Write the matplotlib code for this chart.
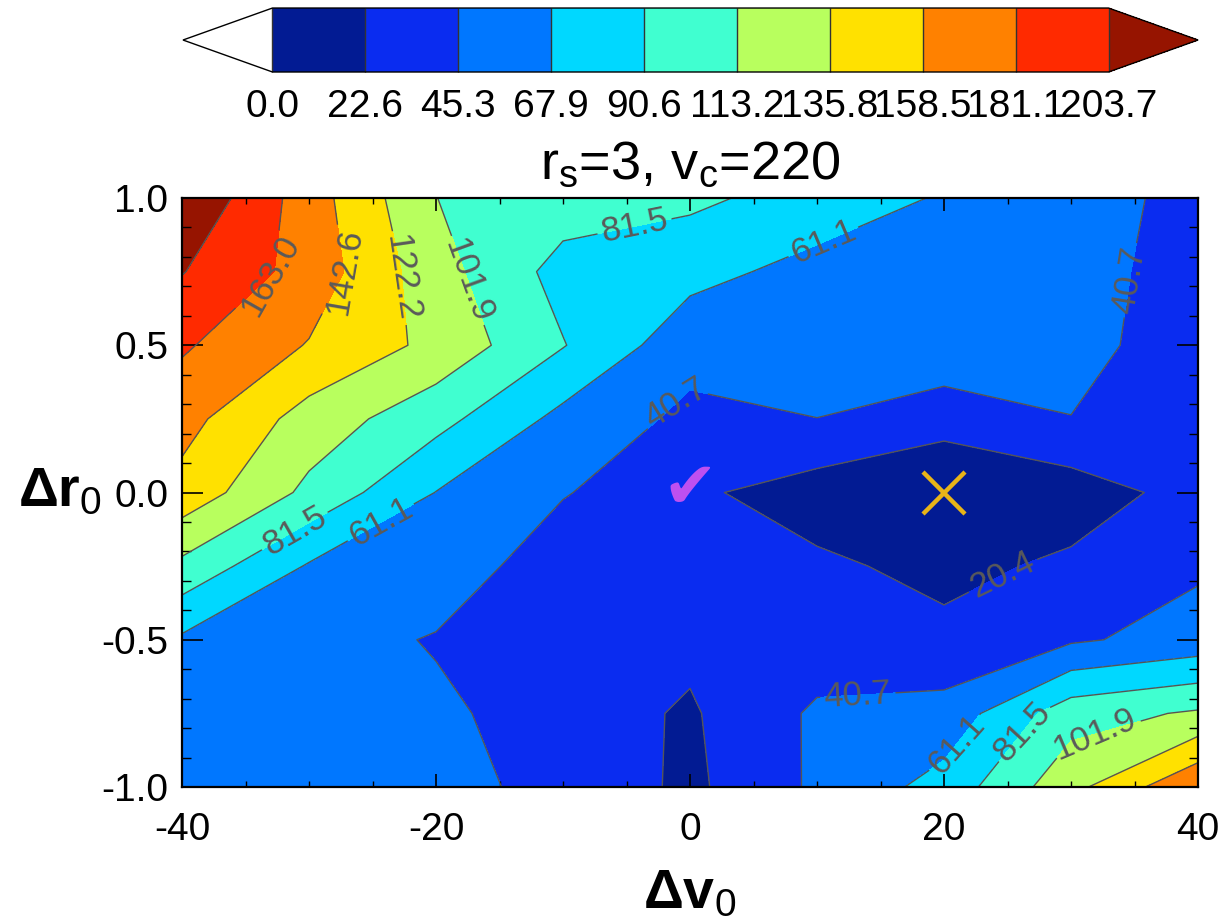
import matplotlib

matplotlib.use("Agg")
import matplotlib.pyplot as plt
import numpy as np
from matplotlib.cm import ScalarMappable
from matplotlib.colors import BoundaryNorm, ListedColormap

plt.rcParams["font.family"] = ["Liberation Sans", "DejaVu Sans"]
plt.rcParams["mathtext.fontset"] = "custom"
plt.rcParams["mathtext.rm"] = "Liberation Sans"
plt.rcParams["mathtext.it"] = "Liberation Sans:italic"
plt.rcParams["mathtext.bf"] = "Liberation Sans:bold"

# offsets of the initial velocity and radius tried in the grid
dv0 = [-40, -30, -20, -10, 0, 10, 20, 30, 40]
dr0 = [-1.0, -0.75, -0.5, -0.25, 0.0, 0.25, 0.5, 0.75, 1.0]

# misfit on the grid, one row per dr0 (bottom to top), columns follow dv0
misfit = [
    [48.0, 47.0, 45.8, 36.0, 16.0, 44.2, 68.7, 116.0, 161.5],   # dr0 = -1.00
    [52.0, 48.0, 45.0, 30.0, 18.0, 44.0, 48.0, 93.5, 104.5],    # dr0 = -0.75
    [57.9, 50.6, 39.0, 28.0, 25.0, 29.0, 25.2, 38.0, 48.6],     # dr0 = -0.50
    [96.7, 59.2, 55.0, 27.0, 28.0, 24.0, 15.0, 24.1, 37.9],     # dr0 = -0.25
    [135.6, 97.0, 60.7, 42.2, 24.0, 10.6, 5.0, 10.0, 28.0],     # dr0 =  0.00
    [150.0, 113.7, 88.5, 55.3, 36.1, 40.6, 27.0, 40.5, 32.0],   # dr0 =  0.25
    [165.6, 141.4, 116.8, 82.5, 48.0, 50.0, 58.0, 45.0, 34.0],  # dr0 =  0.50
    [184.3, 155.0, 110.0, 74.0, 67.6, 54.4, 55.0, 45.0, 36.0],  # dr0 =  0.75
    [203.0, 152.5, 102.0, 92.0, 85.7, 72.9, 59.2, 48.0, 35.6],  # dr0 =  1.00
]

MAX_MISFIT = 203.74
n_fill = 10   # bands inside the map
n_bar = 9     # bands shown on the colour bar

# input model (tick) and best fit (cross)
true_point = (0, 0)
best_point = (20, 0)

COLORES = ["#021b93", "#0a2cf0", "#0077ff", "#00d8ff", "#40ffd0",
           "#b8ff5e", "#ffe100", "#ff8100", "#ff2a00", "#961400"]

# where the contour labels go (dv0, dr0)
sitios_etiqueta = [
    (-32.7, 0.72), (-26.5, 0.75), (-22.5, 0.73), (-17.5, 0.72),
    (-4.4, 0.91), (10.6, 0.84), (-1.5, 0.32), (34.8, 0.72),
    (-31.0, -0.14), (-24.5, -0.09), (24.5, -0.27), (13.2, -0.68),
    (20.8, -0.85), (25.8, -0.80), (31.5, -0.76),
]

V, R = np.meshgrid(dv0, dr0)
Z = np.array(misfit)

fig = plt.figure(figsize=(12.24, 9.23), dpi=100)
ax = fig.add_axes([0.1487, 0.1473, 0.8301, 0.6382])

niveles = np.linspace(0, MAX_MISFIT, n_fill + 1)
ax.contourf(V, R, Z, levels=niveles, colors=COLORES)
lineas = ax.contour(V, R, Z, levels=niveles[1:-1], colors="#555555", linewidths=1.0)
ax.clabel(lineas, fmt="%.1f", fontsize=25, colors="#5a5a5a",
          manual=sitios_etiqueta, inline=True, inline_spacing=4)

ax.text(true_point[0], true_point[1] + 0.01, "\u2714", color="#be50f0", fontsize=47,
        ha="center", va="center", family="DejaVu Sans")
ax.plot(*best_point, marker="x", color="#e8b418", markersize=30, mew=3.2, ls="none")

ax.set_xlim(-40, 40)
ax.set_ylim(-1, 1)
ax.set_xticks([-40, -20, 0, 20, 40])
ax.set_xticks(np.arange(-40, 41, 5), minor=True)
ax.set_yticks([-1.0, -0.5, 0.0, 0.5, 1.0])
ax.set_yticks(np.arange(-1.0, 1.01, 0.1), minor=True)
ax.set_yticklabels(["-1.0", "-0.5", "0.0", "0.5", "1.0"])
ax.set_xticklabels(["-40", "-20", "0", "20", "40"])
ax.tick_params(which="both", direction="in", top=True, right=True, labelsize=28)
ax.tick_params(axis="x", which="major", length=9.5, width=1.2, pad=18)
ax.tick_params(axis="x", which="minor", length=4, width=1)
ax.tick_params(axis="y", which="major", length=15, width=1.2, pad=10)
ax.tick_params(axis="y", which="minor", length=6.5, width=1)
for lado in ax.spines.values():
    lado.set_linewidth(1.6)

ax.set_xlabel("\u0394v$_0$", fontsize=40, fontweight="bold")
ax.xaxis.set_label_coords(0.5, -0.138)
ax.set_ylabel("\u0394r$_0$", fontsize=40, fontweight="bold", rotation=0,
              ha="right", va="center")
ax.yaxis.set_label_coords(-0.079, 0.5)
ax.set_title(r"r$_\mathrm{s}$=3, v$_\mathrm{c}$=220", fontsize=39, pad=14)

# colour bar across the top
limites = np.linspace(0, MAX_MISFIT, n_bar + 1)
cmap_barra = ListedColormap(COLORES[:n_bar])
cmap_barra.set_under("white")
cmap_barra.set_over(COLORES[-1])
cax = fig.add_axes([0.1495, 0.922, 0.8293, 0.0693])
cb = fig.colorbar(ScalarMappable(norm=BoundaryNorm(limites, n_bar), cmap=cmap_barra),
                  cax=cax, orientation="horizontal", extend="both", extendfrac=0.107,
                  drawedges=True, ticks=limites)
cb.ax.set_xticklabels([f"{b:.1f}" for b in limites])
cb.ax.tick_params(length=0, pad=12, labelsize=28)
cb.outline.set_linewidth(1.0)
cb.dividers.set_color("#333333")
cb.dividers.set_linewidth(1.0)

fig.savefig("out.png", dpi=100)
